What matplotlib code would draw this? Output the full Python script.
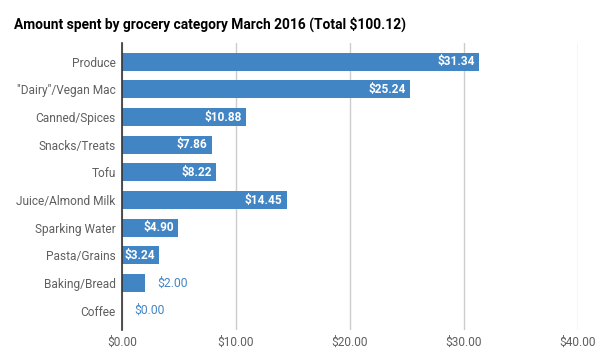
import matplotlib
matplotlib.use("Agg")
import matplotlib.pyplot as plt
from matplotlib.ticker import FuncFormatter

plt.rcParams['font.family'] = ['Roboto', 'DejaVu Sans']

categories = ["Produce", "\"Dairy\"/Vegan Mac", "Canned/Spices", "Snacks/Treats", "Tofu",
              "Juice/Almond Milk", "Sparking Water", "Pasta/Grains", "Baking/Bread", "Coffee"]
amounts = [31.34, 25.24, 10.88, 7.86, 8.22, 14.45, 4.90, 3.24, 2.00, 0.00]
xticks = [0, 10, 20, 30, 40]

bar_color = "#4285c4"
grey = "#5f5f5f"

fig = plt.figure(figsize=(5.97, 3.60), dpi=100)
ax = fig.add_axes([122/597, 30/360, 456/597, 287/360])

pos = list(range(len(categories)))
ax.barh(pos, amounts, height=0.65, color=bar_color, zorder=3)

for y, v in zip(pos, amounts):
    txt = "$%.2f" % v
    if v >= 3:
        ax.annotate(txt, (v, y), xytext=(-3, 0), textcoords="offset points",
                    ha="right", va="center", color="white", fontsize=8.6,
                    fontweight="bold", zorder=4)
    else:
        ax.annotate(txt, (v, y), xytext=(9, 0), textcoords="offset points",
                    ha="left", va="center", color=bar_color, fontsize=8.7, zorder=4)

ax.set_yticks(pos)
ax.set_yticklabels(categories)
ax.set_ylim(9.5 + 0.2, -0.5 - 0.18)
ax.set_xlim(0, 40)
ax.set_xticks(xticks)
ax.xaxis.set_major_formatter(FuncFormatter(lambda x, p: "$%.2f" % x))

ax.grid(axis="x", color="#cccccc", linewidth=1, zorder=0)
for s in ["top", "right", "bottom"]:
    ax.spines[s].set_visible(False)
ax.spines["left"].set_color("#333333")
ax.spines["left"].set_linewidth(1.2)
ax.spines["left"].set_zorder(5)
ax.tick_params(axis="both", length=0, labelsize=8.6, labelcolor=grey)
ax.tick_params(axis="y", pad=4.5)
ax.tick_params(axis="x", pad=4)

fig.text(14/597, 1 - 28.3/360, "Amount spent by grocery category March 2016 (Total $100.12)",
         fontsize=9.95, fontweight="bold", color="black", va="baseline", ha="left")

fig.savefig("out.png", dpi=100)
